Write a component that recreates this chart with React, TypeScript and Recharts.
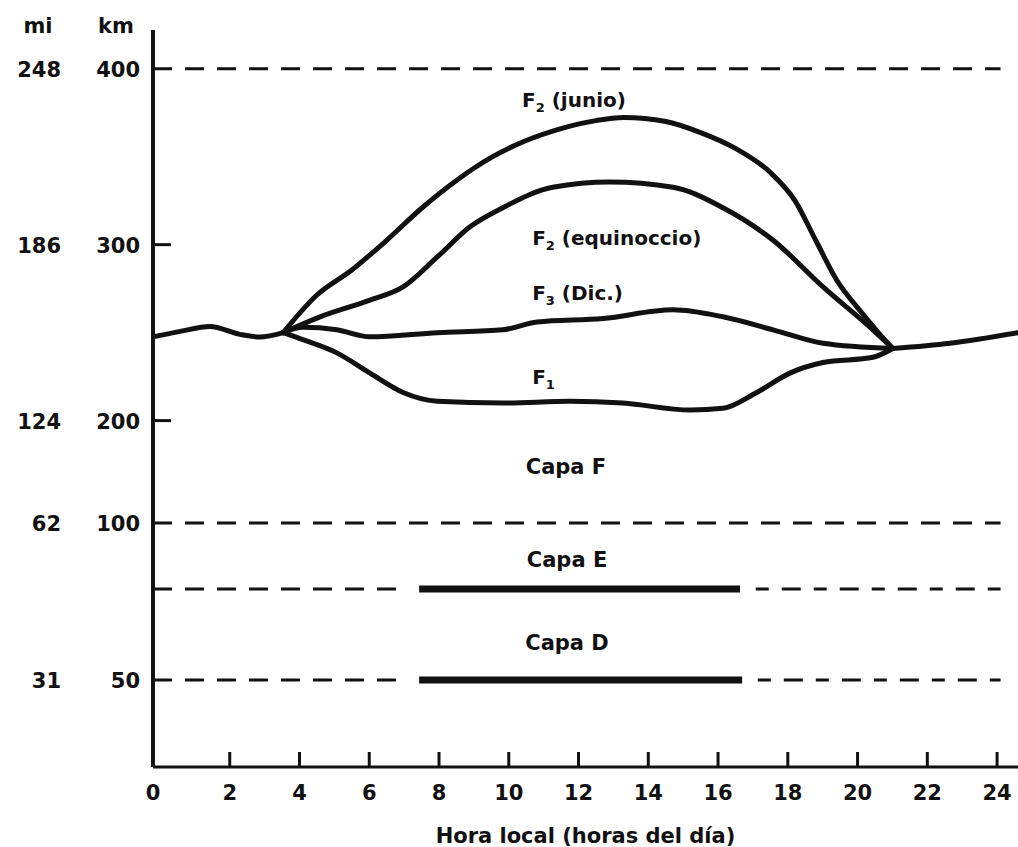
import React from 'react';
import { LineChart, Line, XAxis, YAxis, ReferenceLine, ReferenceDot, Label } from 'recharts';

// hour of day on the x axis, altitude in km on the y axis
const HOUR_TICKS = [0, 2, 4, 6, 8, 10, 12, 14, 16, 18, 20, 22, 24];
const KM_TICKS = [50, 100, 200, 300, 400];
const MI_LABELS = ['31', '62', '124', '186', '248'];
const KM_INNER_TICKS = [200, 300];

// shared night-time F layer, before the split and after the merge
const BASE_AM_HOURS = [-0.2, 0.58, 1.43, 2.29, 2.86, 3.53];
const BASE_AM_KM = [247.6, 250.7, 253.5, 249, 247.5, 250];
const BASE_PM_HOURS = [21.01, 22.65, 24.6];
const BASE_PM_KM = [241, 244, 250];

const JUNIO_HOURS = [3.53, 4.5, 5.5, 6.5, 7.5, 8.5, 9.5, 10.5, 11.5, 12.5, 13.3, 14.5, 15.5, 16.5, 17.5, 18.2, 18.8, 19.4, 20.1, 20.6, 21.01];
const JUNIO_KM = [250, 271.4, 285.6, 302.5, 320.7, 336.5, 349.6, 359.2, 366, 370.5, 372.2, 370, 363.7, 354.7, 341, 325.2, 302.5, 279.9, 261.8, 249.9, 241];

const EQUINOCCIO_HOURS = [3.53, 4.59, 6.02, 6.97, 7.95, 8.88, 9.83, 11.26, 12.9, 14.71, 16.14, 17.58, 19.01, 20.44, 21.01];
const EQUINOCCIO_KM = [250, 259, 268.5, 276, 293, 310, 321, 332.6, 335.6, 332.6, 321, 302.5, 276, 251.6, 241];

const DIC_HOURS = [3.53, 4.1, 5.07, 6.02, 7.95, 9.83, 10.81, 12.7, 14.71, 16.14, 17.58, 19.01, 21.01];
const DIC_KM = [250, 253, 251.6, 247.6, 250, 251.6, 256, 258, 263, 259, 251.6, 244, 241];

const F1_HOURS = [3.53, 4.1, 5.07, 6.02, 6.97, 7.95, 9.83, 11.76, 13.27, 15.2, 16.14, 17.11, 18.06, 19.01, 20.44, 21.01];
const F1_KM = [250, 246, 238.5, 227, 216, 211, 210, 211, 210, 206, 207, 216, 227, 233, 236, 241];

// layer boundaries
const BOUNDARY_KM = [400, 100];
const LAYER_KM = [79, 50]; // capa E, capa D
const LAYER_DAY_START = [7.43, 7.43];
const LAYER_DAY_END = [16.63, 16.69];
const LINE_START_HOUR = -0.2;
const LINE_END_HOUR = 24.1;

// the figure's altitude axis is broken: piecewise linear between these
const KM_BREAKS = [0, 50, 100, 200, 422];
const KM_BREAK_FRACS = [0, 0.118, 0.331, 0.47, 1];

function brokenScale(initDom: number[] = [0, 422], initRng: number[] = [0, 1]): any {
  let dom = initDom.slice();
  let rng = initRng.slice();
  const frac = (v: number) => {
    let i = 1;
    while (i < KM_BREAKS.length - 1 && v > KM_BREAKS[i]) i++;
    const a = KM_BREAKS[i - 1];
    const b = KM_BREAKS[i];
    return KM_BREAK_FRACS[i - 1] + ((v - a) / (b - a)) * (KM_BREAK_FRACS[i] - KM_BREAK_FRACS[i - 1]);
  };
  const s: any = (v: number) => rng[0] + frac(Number(v)) * (rng[1] - rng[0]);
  s.domain = (...args: any[]) => {
    if (!args.length) return dom.slice();
    dom = Array.from(args[0]);
    return s;
  };
  s.range = (...args: any[]) => {
    if (!args.length) return rng.slice();
    rng = Array.from(args[0]);
    return s;
  };
  s.copy = () => brokenScale(dom, rng);
  s.ticks = () => KM_TICKS.slice();
  s.clamp = () => s;
  s.nice = () => s;
  s.invert = (px: number) => {
    const f = (px - rng[0]) / (rng[1] - rng[0]);
    let i = 1;
    while (i < KM_BREAK_FRACS.length - 1 && f > KM_BREAK_FRACS[i]) i++;
    const a = KM_BREAK_FRACS[i - 1];
    const b = KM_BREAK_FRACS[i];
    return KM_BREAKS[i - 1] + ((f - a) / (b - a)) * (KM_BREAKS[i] - KM_BREAKS[i - 1]);
  };
  return s;
}

const zip = (hours: number[], km: number[]) => hours.map((h, i) => ({ h, km: km[i] }));

const FONT = '"DejaVu Sans", "Liberation Sans", Arial, sans-serif';
const INK = '#111';
const textStyle = { fontFamily: FONT, fontWeight: 700, fontSize: 21, fill: INK };

const HourTick = (props: any) => {
  const { x, y, payload } = props;
  return (
    <g>
      {payload.value !== 0 && <line x1={x} x2={x} y1={y} y2={y - 15} stroke={INK} strokeWidth={3} />}
      <text x={payload.value === 0 ? x - 7 : x} y={y + 33} textAnchor="middle" {...textStyle}>{payload.value}</text>
    </g>
  );
};

const KmTick = (props: any) => {
  const { x, y, payload } = props;
  const km = payload.value;
  const i = KM_TICKS.indexOf(km);
  return (
    <g>
      {KM_INNER_TICKS.includes(km) && <line x1={x} x2={x + 18} y1={y} y2={y} stroke={INK} strokeWidth={3} />}
      <text x={x - 13} y={y + 8} textAnchor="end" {...textStyle}>{km}</text>
      <text x={61} y={y + 8} textAnchor="end" {...textStyle}>{MI_LABELS[i]}</text>
    </g>
  );
};

const AxisHeaders = (props: any) => {
  const { viewBox } = props;
  return (
    <g>
      <text x={38} y={viewBox.y + 3} textAnchor="middle" {...textStyle}>mi</text>
      <text x={viewBox.x + viewBox.width - 37} y={viewBox.y + 3} textAnchor="middle" {...textStyle}>km</text>
    </g>
  );
};

const XTitle = (props: any) => {
  const { viewBox } = props;
  return (
    <text x={viewBox.x + viewBox.width / 2} y={viewBox.y + 76} textAnchor="middle" {...textStyle}>
      Hora local (horas del día)
    </text>
  );
};

// F-layer labels with subscripts, placed left-anchored
const fLabel = (sub: string, rest: string) => (props: any) => {
  const { viewBox } = props;
  return (
    <text x={viewBox.x} y={viewBox.y + 7} textAnchor="start" {...textStyle} fontSize={20}>
      <tspan>F</tspan>
      <tspan fontSize={13} dy={5}>{sub}</tspan>
      <tspan dy={-5}>{rest}</tspan>
    </text>
  );
};

const centerLabel = (txt: string) => (props: any) => {
  const { viewBox } = props;
  return (
    <text x={viewBox.x} y={viewBox.y + 7} textAnchor="middle" {...textStyle}>{txt}</text>
  );
};

const NOTES = [
  { h: 10.38, km: 382, render: fLabel('2', ' (junio)') },
  { h: 10.67, km: 304, render: fLabel('2', ' (equinoccio)') },
  { h: 10.67, km: 272.5, render: fLabel('3', ' (Dic.)') },
  { h: 10.67, km: 225, render: fLabel('1', '') },
  { h: 11.64, km: 155, render: centerLabel('Capa F') },
  { h: 11.67, km: 88.2, render: centerLabel('Capa E') },
  { h: 11.67, km: 61.8, render: centerLabel('Capa D') },
];

const lineProps = {
  dataKey: 'km',
  type: 'monotone' as const,
  stroke: INK,
  strokeWidth: 5,
  dot: false,
  activeDot: false,
  isAnimationActive: false,
  strokeLinejoin: 'round' as const,
  strokeLinecap: 'round' as const,
};

const dashProps = { stroke: INK, strokeWidth: 3, strokeDasharray: '19 13' };

export default function App() {
  const kmScale = brokenScale();
  return (
    <div style={{ position: 'absolute', left: 0, top: 0, width: 1018, height: 847, background: '#fff' }}>
      <LineChart width={1018} height={847} margin={{ top: 30, right: 0, bottom: 0, left: 0 }}>
        <XAxis
          type="number"
          dataKey="h"
          domain={[-0.2, 24.6]}
          ticks={HOUR_TICKS}
          interval={0}
          allowDataOverflow
          height={80}
          axisLine={{ stroke: INK, strokeWidth: 3 }}
          tickLine={false}
          tickSize={0}
          tickMargin={0}
          tick={<HourTick />}
        >
          <Label content={<XTitle />} />
        </XAxis>
        <YAxis
          type="number"
          domain={[0, 422]}
          scale={kmScale}
          ticks={KM_TICKS}
          interval={0}
          allowDataOverflow
          width={153}
          axisLine={{ stroke: INK, strokeWidth: 4 }}
          tickLine={false}
          tickSize={0}
          tickMargin={0}
          tick={<KmTick />}
        >
          <Label content={<AxisHeaders />} />
        </YAxis>

        {BOUNDARY_KM.map((km) => (
          <ReferenceLine
            key={`b-${km}`}
            segment={[{ x: LINE_START_HOUR, y: km }, { x: LINE_END_HOUR, y: km }]}
            {...dashProps}
          />
        ))}
        {LAYER_KM.map((km, i) => (
          <React.Fragment key={`l-${km}`}>
            <ReferenceLine
              segment={[{ x: LINE_START_HOUR, y: km }, { x: LAYER_DAY_START[i] - 0.45, y: km }]}
              {...dashProps}
            />
            <ReferenceLine
              segment={[{ x: LAYER_DAY_START[i], y: km }, { x: LAYER_DAY_END[i], y: km }]}
              stroke={INK}
              strokeWidth={7}
            />
            <ReferenceLine
              segment={[{ x: LAYER_DAY_END[i] + 0.45, y: km }, { x: LINE_END_HOUR, y: km }]}
              {...dashProps}
              strokeDasharray="13 13 19 13"
            />
          </React.Fragment>
        ))}

        <Line {...lineProps} data={zip(BASE_AM_HOURS, BASE_AM_KM)} />
        <Line {...lineProps} data={zip(BASE_PM_HOURS, BASE_PM_KM)} />
        <Line {...lineProps} data={zip(JUNIO_HOURS, JUNIO_KM)} />
        <Line {...lineProps} data={zip(EQUINOCCIO_HOURS, EQUINOCCIO_KM)} />
        <Line {...lineProps} data={zip(DIC_HOURS, DIC_KM)} />
        <Line {...lineProps} data={zip(F1_HOURS, F1_KM)} />

        {NOTES.map((n, i) => (
          <ReferenceDot
            key={`n-${i}`}
            x={n.h}
            y={n.km}
            r={0}
            fill="none"
            stroke="none"
            label={{ content: n.render }}
          />
        ))}
      </LineChart>
    </div>
  );
}
